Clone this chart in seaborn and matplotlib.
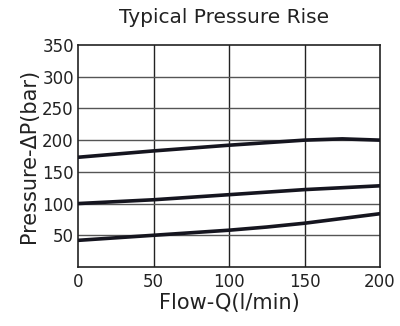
import matplotlib
matplotlib.use("Agg")
import matplotlib.pyplot as plt
import seaborn as sns
import pandas as pd

flow_upper = [0, 50, 100, 150, 175, 200]
pres_upper = [173, 183, 192, 200, 202, 200]
flow_mid = [0, 50, 100, 150, 200]
pres_mid = [100, 106, 114, 122, 128]
flow_low = [0, 50, 100, 125, 150, 200]
pres_low = [42, 50, 58, 63, 69, 84]
x_ticks = [0, 50, 100, 150, 200]
y_ticks = [50, 100, 150, 200, 250, 300, 350]

df = pd.concat([
    pd.DataFrame({"flow": flow_upper, "pressure": pres_upper, "curve": "upper"}),
    pd.DataFrame({"flow": flow_mid, "pressure": pres_mid, "curve": "mid"}),
    pd.DataFrame({"flow": flow_low, "pressure": pres_low, "curve": "low"}),
])

sns.set_style("white")
plt.rcParams['font.family'] = ['DejaVu Sans']
fig = plt.figure(figsize=(4.0, 3.26), dpi=100)
ax = fig.add_axes([0.195, 0.181, 0.755, 0.681])

for x in [50, 100, 150]:
    ax.axvline(x, color="#222222", lw=1.0, zorder=1)
for y in y_ticks[:-1]:
    ax.axhline(y, color="#555555", lw=1.0, zorder=1)

sns.lineplot(data=df, x="flow", y="pressure", units="curve", estimator=None,
             color="#15151f", lw=2.6, ax=ax, sort=True, zorder=3)

ax.set_xlim(0, 200)
ax.set_ylim(0, 350)
ax.set_xticks(x_ticks)
ax.set_yticks(y_ticks)
ax.tick_params(axis="both", length=0, labelsize=12, colors="#222222")
ax.tick_params(axis="x", pad=4)
ax.tick_params(axis="y", pad=3)
for s in ax.spines.values():
    s.set_color("#222222")
    s.set_linewidth(1.2)
ax.set_xlabel("Flow-Q(l/min)", fontsize=15, color="#222222", labelpad=2)
ax.set_ylabel("Pressure-ΔP(bar)", fontsize=15, color="#222222", labelpad=2)
fig.text(0.56, 0.945, "Typical Pressure Rise", ha="center", va="center", fontsize=14.5, color="#222222")

fig.savefig("out.png", dpi=100)
